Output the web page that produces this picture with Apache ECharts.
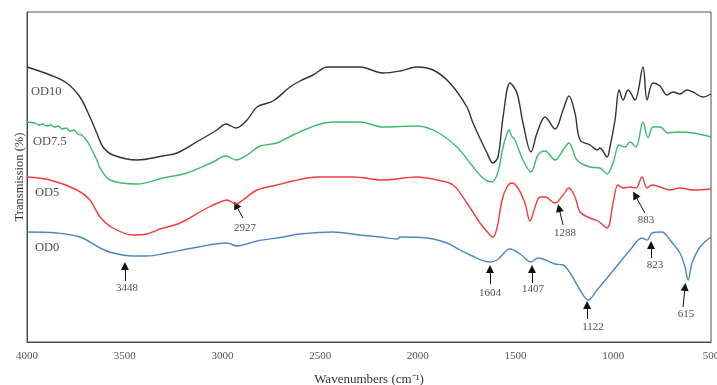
<!DOCTYPE html>
<html>
<head>
<meta charset="utf-8">
<script src="https://cdn.jsdelivr.net/npm/echarts@6/dist/echarts.min.js"></script>
<style>html,body{margin:0;padding:0;background:#fff;}#c{width:717px;height:385px;}</style>
</head>
<body>
<div id="c"></div>
<script>
// Wavenumbers (cm-1) and transmission (arbitrary units, curves offset)
var OD10_WN = [4000,3882,3797,3729,3678,3643,3611,3560,3437,3304,3232,3115,3028,2982,2931,2874,2823,2741,2654,2603,2537,2460,2296,2178,2091,2004,1922,1836,1749,1718,1646,1616,1590,1564,1528,1493,1462,1421,1390,1349,1298,1257,1227,1196,1170,1119,1083,1068,1032,1017,991,970,950,924,889,848,827,797,761,725,694,659,623,592,541,500];
var OD10_T  = [275,267,259,245,225,209,195,187,182,186,189,202,212,218,214,222,235,241,255,261,267,275,275,269,271,275,272,259,235,219,189,179,185,225,259,249,219,190,209,225,213,232,246,229,202,197,192,194,185,195,222,252,242,252,242,275,242,259,256,247,250,248,252,250,245,248];

var OD75_WN = [4000,3960,3940,3920,3900,3880,3860,3840,3820,3800,3780,3760,3740,3720,3700,3678,3660,3640,3626,3575,3437,3304,3181,3048,2982,2931,2874,2808,2721,2639,2516,2434,2296,2178,2004,1902,1800,1733,1667,1621,1590,1564,1545,1534,1520,1503,1462,1421,1385,1349,1298,1257,1227,1186,1119,1068,1032,1001,970,940,914,884,848,822,797,761,720,674,592,500];
var OD75_T  = [220,219,217,218,216,217,215,216,213,214,211,212,208,207,203,196,189,181,174,162,158,164,169,180,186,182,187,196,199,207,217,220,220,215,216,210,195,179,164,160,170,195,208,212,206,202,182,170,187,191,182,192,199,182,175,174,168,179,197,195,200,195,220,204,215,215,209,210,209,205];

var OD5_WN = [4000,3882,3744,3678,3626,3560,3458,3386,3319,3217,3079,3012,2977,2931,2895,2823,2721,2639,2516,2332,2178,2004,1902,1820,1749,1682,1631,1616,1595,1569,1544,1518,1488,1452,1426,1405,1375,1349,1298,1257,1227,1196,1170,1119,1078,1032,1001,976,950,914,884,853,827,802,761,710,659,592,500];
var OD5_T  = [165,162,152,142,125,114,107,108,113,119,134,140,142,138,142,152,157,161,165,165,162,165,162,157,139,119,107,105,114,142,155,159,154,139,121,132,145,145,139,147,154,145,130,124,121,114,139,157,154,155,154,165,154,157,155,152,154,152,153];

var OD0_WN = [4000,3846,3729,3626,3560,3458,3386,3284,3151,2977,2925,2859,2823,2690,2603,2434,2296,2194,2107,2091,1953,1851,1784,1733,1631,1595,1528,1477,1421,1385,1298,1257,1221,1170,1129,1083,1032,965,914,853,827,802,751,710,659,633,617,597,556,500];
var OD0_T  = [110,109,105,94,89,86,86,89,94,99,96,99,101,105,108,110,107,105,103,105,104,99,92,87,80,82,93,88,80,84,78,77,69,52,42,52,64,80,92,104,102,109,110,102,89,75,62,79,95,105];

var SERIES_NAMES = ['OD10','OD7.5','OD5','OD0'];
var NAME_WN = [3980,3969,3959,3959];
var NAME_T  = [250,200,149,94];

var PEAK_LABELS = ['3448','2927','1604','1407','1288','1122','883','823','615'];
var ARROW_TIP_WN  = [3499,2931,1631,1416,1278,1134,889,807,633];
var ARROW_TIP_T   = [76,137,73,73,134,37,147,97,55];
var ARROW_TAIL_WN = [3499,2895,1631,1416,1257,1134,838,807,643];
var ARROW_TAIL_T  = [61,124,58,59,117,23,129,84,35];
var LABEL_WN = [3488,2885,1631,1411,1247,1104,833,787,628];
var LABEL_T  = [54,114,49,53,109,15,122,77,28];

var X_TICKS = [4000,3500,3000,2500,2000,1500,1000,500];

function pairs(w, t){ return w.map(function(v,i){ return [v, t[i]]; }); }

var colors = ['#333333','#3dba6c','#f53b3b','#4a88c8'];
var serif = 'Liberation Serif';

var curves = [
  pairs(OD10_WN, OD10_T), pairs(OD75_WN, OD75_T), pairs(OD5_WN, OD5_T), pairs(OD0_WN, OD0_T)
];

var series = curves.map(function(d, i){
  return {
    type:'line', name: SERIES_NAMES[i], data: d, showSymbol:false, smooth:0.35,
    lineStyle:{color: colors[i], width:1.4}, itemStyle:{color: colors[i]}, z:2, silent:true, animation:false
  };
});

series.push({
  type:'scatter', symbolSize:0, silent:true, animation:false,
  data: SERIES_NAMES.map(function(n,i){ return {value:[NAME_WN[i], NAME_T[i]], name:n}; }),
  label:{show:true, position:'inside', align:'left', formatter:'{b}', color:'#222', fontFamily:serif, fontSize:12.5}
});

series.push({
  type:'scatter', symbolSize:0, silent:true, animation:false,
  data: PEAK_LABELS.map(function(n,i){ return {value:[LABEL_WN[i], LABEL_T[i]], name:n}; }),
  label:{show:true, position:'inside', formatter:'{b}', color:'#222', fontFamily:serif, fontSize:11}
});

series.push({
  type:'lines', coordinateSystem:'cartesian2d', silent:true, animation:false,
  symbol:['none','triangle'], symbolSize:[7,8],
  lineStyle:{color:'#111', width:1, opacity:1},
  data: PEAK_LABELS.map(function(n,i){
    return {coords:[[ARROW_TAIL_WN[i], ARROW_TAIL_T[i]],[ARROW_TIP_WN[i], ARROW_TIP_T[i]]]};
  })
});

var chart = echarts.init(document.getElementById('c'), null, {renderer:'canvas'});
chart.setOption({
  animation:false,
  grid:{left:27, right:6, top:12, bottom:43, show:true, borderColor:'#555', borderWidth:1,
        containLabel:false, outerBoundsMode:'none'},
  xAxis:{
    type:'value', min:500, max:4000, interval:500, inverse:true,
    name:'Wavenumbers (cm⁻¹)', nameLocation:'middle', nameGap:31,
    nameTextStyle:{fontFamily:serif, fontSize:13, color:'#333'},
    axisLine:{show:true, lineStyle:{color:'#444'}}, axisTick:{show:false}, splitLine:{show:false},
    axisLabel:{fontFamily:serif, fontSize:11, color:'#555', margin:9,
      formatter:function(v){ return X_TICKS.indexOf(v) >= 0 ? String(v) : ''; }}
  },
  yAxis:{
    type:'value', min:0, max:330,
    name:'Transmission (%)', nameLocation:'middle', nameGap:1,
    nameTextStyle:{fontFamily:serif, fontSize:12.5, color:'#333'},
    axisLine:{show:true, lineStyle:{color:'#444'}}, axisTick:{show:false}, axisLabel:{show:false}, splitLine:{show:false}
  },
  series: series
});
</script>
</body>
</html>
